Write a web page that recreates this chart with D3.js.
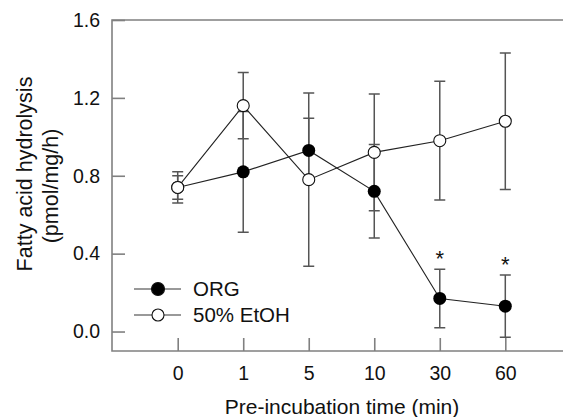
<!DOCTYPE html>
<html>
<head>
<meta charset="utf-8">
<script src="https://cdn.jsdelivr.net/npm/d3@7"></script>
<style>
  body { margin: 0; background: #fff; }
  text { font-family: Arial, "Liberation Sans", sans-serif; fill: #111; }
</style>
</head>
<body>
<div id="chart"></div>
<script>
// data
var times = ["0", "1", "5", "10", "30", "60"];
var orgMean = [0.74, 0.82, 0.93, 0.72, 0.17, 0.13];
var orgErr = [0.06, 0.31, 0.165, 0.24, 0.15, 0.16];
var etohMean = [0.74, 1.16, 0.78, 0.92, 0.98, 1.08];
var etohErr = [0.08, 0.17, 0.445, 0.30, 0.305, 0.35];
var sigMarks = ["", "", "", "", "*", "*"];
var yTicks = [0.0, 0.4, 0.8, 1.2, 1.6];

var svgWidth = 563;
var svgHeight = 417;

var svg = d3.select("#chart")
  .append("svg")
  .attr("width", svgWidth)
  .attr("height", svgHeight);

var plotLeft = 112, plotTop = 20, plotBottom = 351;

var x = d3.scalePoint()
  .domain(times)
  .range([177.7, 505.3]);

var y = d3.scaleLinear()
  .domain([-0.1, 1.6])
  .range([plotBottom, plotTop]);

var axisColor = "#808080";

// frame (right side is cut off in the original)
svg.append("path")
  .attr("d", `M${svgWidth + 10},${plotTop} H${plotLeft} V${plotBottom} H${svgWidth + 10}`)
  .attr("fill", "none")
  .attr("stroke", axisColor)
  .attr("stroke-width", 1.6);

// y axis, ticks pointing inward
var leftAxis = d3.axisLeft(y)
  .tickValues(yTicks)
  .tickSize(-13)
  .tickPadding(12)
  .tickFormat(d3.format(".1f"));

var gy = svg.append("g")
  .attr("transform", `translate(${plotLeft},0)`)
  .call(leftAxis);
gy.select(".domain").remove();
gy.selectAll(".tick line").attr("stroke", axisColor).attr("stroke-width", 1.6);
gy.selectAll(".tick text")
  .attr("font-size", 19.5)
  .attr("font-family", "Arial, 'Liberation Sans', sans-serif")
  .attr("fill", "#111");

// x axis, ticks pointing up
var bottomAxis = d3.axisBottom(x)
  .tickSize(-13)
  .tickPadding(15);

var gx = svg.append("g")
  .attr("transform", `translate(0,${plotBottom})`)
  .call(bottomAxis);
gx.select(".domain").remove();
gx.selectAll(".tick line").attr("stroke", axisColor).attr("stroke-width", 1.6);
gx.selectAll(".tick text")
  .attr("font-size", 19.5)
  .attr("font-family", "Arial, 'Liberation Sans', sans-serif")
  .attr("fill", "#111");

// build point objects
var orgData = times.map((t, i) => ({ t: t, m: orgMean[i], e: orgErr[i], sig: sigMarks[i] }));
var etohData = times.map((t, i) => ({ t: t, m: etohMean[i], e: etohErr[i] }));

// error bars
function drawErrors(data) {
  var g = svg.append("g")
    .attr("stroke", "#555")
    .attr("stroke-width", 1.5)
    .attr("fill", "none");
  var cap = 5.5;
  g.selectAll("path")
    .data(data)
    .enter()
    .append("path")
    .attr("d", d => {
      var cx = x(d.t), y1 = y(d.m + d.e), y2 = y(d.m - d.e);
      return `M${cx},${y1} V${y2} M${cx - cap},${y1} H${cx + cap} M${cx - cap},${y2} H${cx + cap}`;
    });
}
drawErrors(etohData);
drawErrors(orgData);

// connecting lines
var line = d3.line()
  .x(d => x(d.t))
  .y(d => y(d.m));

svg.append("path")
  .datum(orgData)
  .attr("d", line)
  .attr("fill", "none")
  .attr("stroke", "#222")
  .attr("stroke-width", 1.1);

svg.append("path")
  .datum(etohData)
  .attr("d", line)
  .attr("fill", "none")
  .attr("stroke", "#222")
  .attr("stroke-width", 1.1);

// markers
svg.selectAll("circle.org")
  .data(orgData)
  .enter()
  .append("circle")
  .attr("class", "org")
  .attr("cx", d => x(d.t))
  .attr("cy", d => y(d.m))
  .attr("r", 6.5)
  .attr("fill", "#000");

svg.selectAll("circle.etoh")
  .data(etohData)
  .enter()
  .append("circle")
  .attr("class", "etoh")
  .attr("cx", d => x(d.t))
  .attr("cy", d => y(d.m))
  .attr("r", 6)
  .attr("fill", "#fff")
  .attr("stroke", "#111")
  .attr("stroke-width", 1.1);

// significance asterisks
svg.selectAll("text.sig")
  .data(orgData.filter(d => d.sig))
  .enter()
  .append("text")
  .attr("class", "sig")
  .attr("x", d => x(d.t))
  .attr("y", d => y(d.m + d.e) - 3)
  .attr("text-anchor", "middle")
  .attr("font-size", 22)
  .text(d => d.sig);

// legend
var legendItems = [
  { label: "ORG", fill: "#000", r: 6.5 },
  { label: "50% EtOH", fill: "#fff", r: 6 }
];
var legend = svg.selectAll("g.legend")
  .data(legendItems)
  .enter()
  .append("g")
  .attr("class", "legend")
  .attr("transform", (d, i) => `translate(0,${289 + i * 26})`);

legend.append("line")
  .attr("x1", 134).attr("x2", 181)
  .attr("stroke", "#777")
  .attr("stroke-width", 1.5);

legend.append("circle")
  .attr("cx", 158)
  .attr("r", d => d.r)
  .attr("fill", d => d.fill)
  .attr("stroke", "#111")
  .attr("stroke-width", 1.1);

legend.append("text")
  .attr("x", 193)
  .attr("dy", "0.36em")
  .attr("font-size", 20.5)
  .text(d => d.label);

// axis titles
svg.append("text")
  .attr("x", 342)
  .attr("y", 414)
  .attr("text-anchor", "middle")
  .attr("font-size", 21)
  .text("Pre-incubation time (min)");

svg.append("text")
  .attr("transform", "rotate(-90)")
  .attr("x", -174)
  .attr("y", 31.5)
  .attr("text-anchor", "middle")
  .attr("font-size", 21.5)
  .text("Fatty acid hydrolysis");

svg.append("text")
  .attr("transform", "rotate(-90)")
  .attr("x", -186)
  .attr("y", 58)
  .attr("text-anchor", "middle")
  .attr("font-size", 21.5)
  .text("(pmol/mg/h)");
</script>
</body>
</html>
